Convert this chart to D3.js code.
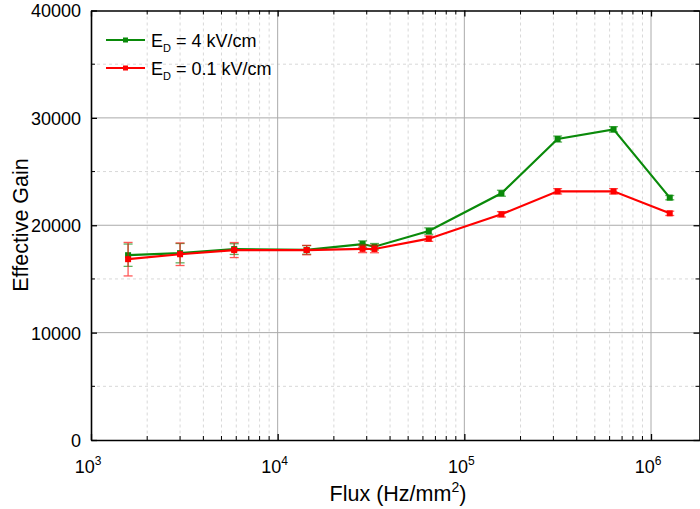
<!DOCTYPE html>
<html>
<head>
<meta charset="utf-8">
<script src="https://cdn.jsdelivr.net/npm/d3@7"></script>
<style>
  body { margin: 0; background: #fff; }
  svg { display: block; font-family: "Liberation Sans", Arial, sans-serif; }
</style>
</head>
<body>
<svg class="svg" width="700" height="509"></svg>
<script>
// flux values (Hz/mm^2)
const flux = [1580, 3000, 5850, 14300, 28500, 33000, 64500, 158000, 316000, 630000, 1260000];
// E_D = 4 kV/cm
const gain4 = [17210, 17400, 17780, 17700, 18250, 18000, 19460, 22980, 28030, 28930, 22570];
const err4 = [1040, 900, 500, 400, 300, 300, 300, 280, 280, 250, 200];
// E_D = 0.1 kV/cm
const gain01 = [16840, 17300, 17690, 17690, 17800, 17790, 18750, 21020, 23160, 23160, 21110];
const err01 = [1560, 1050, 700, 440, 350, 350, 250, 250, 250, 250, 200];
const yTicks = [0, 10000, 20000, 30000, 40000];
const xTicks = [1e3, 1e4, 1e5, 1e6];

function drawChart () {
    const margin = { top: 10.5, right: 0, bottom: 69, left: 91 };
    const width = 700;
    const height = 509;
    const svg = d3.select('.svg');

    const xScale = d3.scaleLog()
        .domain([1e3, 1.83e6])
        .range([margin.left, width - margin.right]);
    const yScale = d3.scaleLinear()
        .domain([0, 40000])
        .range([height - margin.bottom, margin.top]);

    const x0 = margin.left, x1 = width - margin.right;
    const y0 = height - margin.bottom, y1 = margin.top;

    // minor x positions
    const minorX = [];
    [1e3, 1e4, 1e5, 1e6].forEach(dec => {
        for (let k = 2; k <= 9; k++) {
            const v = dec * k;
            if (v < 1.83e6) minorX.push(v);
        }
    });
    const minorY = [5000, 15000, 25000, 35000];

    const grid = svg.append('g');
    grid.selectAll('.vminor').data(minorX).enter().append('line')
        .attr('x1', d => xScale(d)).attr('x2', d => xScale(d))
        .attr('y1', y1).attr('y2', y0)
        .attr('stroke', '#d8d8d8').attr('stroke-dasharray', '3,3');
    grid.selectAll('.hminor').data(minorY).enter().append('line')
        .attr('x1', x0).attr('x2', x1)
        .attr('y1', d => yScale(d)).attr('y2', d => yScale(d))
        .attr('stroke', '#d8d8d8').attr('stroke-dasharray', '3,3');
    grid.selectAll('.vmajor').data([1e4, 1e5, 1e6]).enter().append('line')
        .attr('x1', d => xScale(d)).attr('x2', d => xScale(d))
        .attr('y1', y1).attr('y2', y0)
        .attr('stroke', '#aaaaaa').attr('stroke-width', 1);
    grid.selectAll('.hmajor').data([10000, 20000, 30000]).enter().append('line')
        .attr('x1', x0).attr('x2', x1)
        .attr('y1', d => yScale(d)).attr('y2', d => yScale(d))
        .attr('stroke', '#aaaaaa').attr('stroke-width', 1);

    /* AXES (ticks inward, mirrored) */
    const bottom = svg.append('g').attr('transform', `translate(0, ${y0})`)
        .call(d3.axisBottom(xScale).tickValues(xTicks).tickSizeInner(-6).tickSizeOuter(0).tickFormat(''));
    bottom.append('g').selectAll('line').data(minorX).enter().append('line')
        .attr('x1', d => xScale(d)).attr('x2', d => xScale(d))
        .attr('y1', 0).attr('y2', -4).attr('stroke', '#000');
    const top = svg.append('g').attr('transform', `translate(0, ${y1})`)
        .call(d3.axisTop(xScale).tickValues(xTicks).tickSizeInner(-6).tickSizeOuter(0).tickFormat(''));
    top.append('g').selectAll('line').data(minorX).enter().append('line')
        .attr('x1', d => xScale(d)).attr('x2', d => xScale(d))
        .attr('y1', 0).attr('y2', 4).attr('stroke', '#000');
    const left = svg.append('g').attr('transform', `translate(${x0}, 0)`)
        .call(d3.axisLeft(yScale).tickValues(yTicks).tickSizeInner(-6).tickSizeOuter(0)
            .tickPadding(10).tickFormat(d3.format('d')));
    left.append('g').selectAll('line').data(minorY).enter().append('line')
        .attr('y1', d => yScale(d)).attr('y2', d => yScale(d))
        .attr('x1', 0).attr('x2', 4).attr('stroke', '#000');
    const right = svg.append('g').attr('transform', `translate(${x1 - 0.5}, 0)`)
        .call(d3.axisRight(yScale).tickValues(yTicks).tickSizeInner(-6).tickSizeOuter(0).tickFormat(''));
    right.append('g').selectAll('line').data(minorY).enter().append('line')
        .attr('y1', d => yScale(d)).attr('y2', d => yScale(d))
        .attr('x1', 0).attr('x2', -4).attr('stroke', '#000');

    [bottom, top, left, right].forEach(g => {
        g.select('.domain').attr('stroke', '#000').attr('stroke-width', 1.6);
        g.selectAll('.tick line').attr('stroke', '#000').attr('stroke-width', 1.3);
    });
    left.selectAll('.tick text')
        .attr('font-size', 18).attr('font-family', '"Liberation Sans", Arial, sans-serif')
        .attr('fill', '#000').attr('dy', '0.36em');

    // x tick labels with superscript exponents
    const xl = svg.append('g');
    xTicks.forEach(t => {
        const txt = xl.append('text')
            .attr('x', xScale(t) - 3)
            .attr('y', y0 + 33)
            .attr('text-anchor', 'middle')
            .style('font-size', '18px')
            .attr('fill', '#000');
        txt.append('tspan').text('10');
        txt.append('tspan').attr('dy', -8).style('font-size', '12px').text(Math.round(Math.log10(t)));
    });

    /* AXIS TITLES */
    svg.append('text')
        .attr('transform', 'rotate(-90)')
        .attr('x', -225).attr('y', 28)
        .attr('text-anchor', 'middle')
        .style('font-size', '21.5px')
        .attr('fill', '#000')
        .text('Effective Gain');
    const xt = svg.append('text')
        .attr('x', 398).attr('y', 501)
        .attr('text-anchor', 'middle')
        .style('font-size', '21.5px')
        .attr('fill', '#000');
    xt.append('tspan').text('Flux (Hz/mm');
    xt.append('tspan').attr('dy', -9).style('font-size', '14px').text('2');
    xt.append('tspan').attr('dy', 9).text(')');

    /* SERIES */
    const series = [
        { name: '4', values: gain4, errs: err4, color: '#0a8a0a', label: ' = 4 kV/cm' },
        { name: '0.1', values: gain01, errs: err01, color: '#ff0000', label: ' = 0.1 kV/cm' }
    ];
    const line = d3.line().x(d => xScale(d.x)).y(d => yScale(d.y));

    series.forEach(s => {
        const pts = flux.map((f, i) => ({ x: f, y: s.values[i], e: s.errs[i] }));
        const g = svg.append('g');
        // error bars
        const eb = g.selectAll('.eb').data(pts).enter().append('g').attr('opacity', 0.65);
        eb.append('line')
            .attr('x1', d => xScale(d.x)).attr('x2', d => xScale(d.x))
            .attr('y1', d => yScale(d.y - d.e)).attr('y2', d => yScale(d.y + d.e))
            .attr('stroke', s.color).attr('stroke-width', 1.3);
        [-1, 1].forEach(sign => {
            eb.append('line')
                .attr('x1', d => xScale(d.x) - 4.5).attr('x2', d => xScale(d.x) + 4.5)
                .attr('y1', d => yScale(d.y + sign * d.e)).attr('y2', d => yScale(d.y + sign * d.e))
                .attr('stroke', s.color).attr('stroke-width', 1.3);
        });
        g.append('path').datum(pts)
            .attr('d', line)
            .attr('fill', 'none')
            .attr('stroke', s.color)
            .attr('stroke-width', 2.2);
        g.selectAll('rect').data(pts).enter().append('rect')
            .attr('x', d => xScale(d.x) - 3).attr('y', d => yScale(d.y) - 3)
            .attr('width', 6).attr('height', 6)
            .attr('fill', s.color);
    });

    /* LEGEND */
    const legend = svg.append('g');
    series.forEach((s, i) => {
        const ly = 40 + i * 28;
        legend.append('line')
            .attr('x1', 106).attr('x2', 145).attr('y1', ly).attr('y2', ly)
            .attr('stroke', s.color).attr('stroke-width', 2.2);
        legend.append('rect')
            .attr('x', 123).attr('y', ly - 2.5).attr('width', 5).attr('height', 5)
            .attr('fill', s.color);
        const t = legend.append('text')
            .attr('x', 151).attr('y', ly + 7)
            .style('font-size', '18px')
            .attr('fill', '#000');
        t.append('tspan').text('E');
        t.append('tspan').attr('dy', 5).style('font-size', '11px').text('D');
        t.append('tspan').attr('dy', -5).text(s.label);
    });
}

document.addEventListener('DOMContentLoaded', () => drawChart());
</script>
</body>
</html>
